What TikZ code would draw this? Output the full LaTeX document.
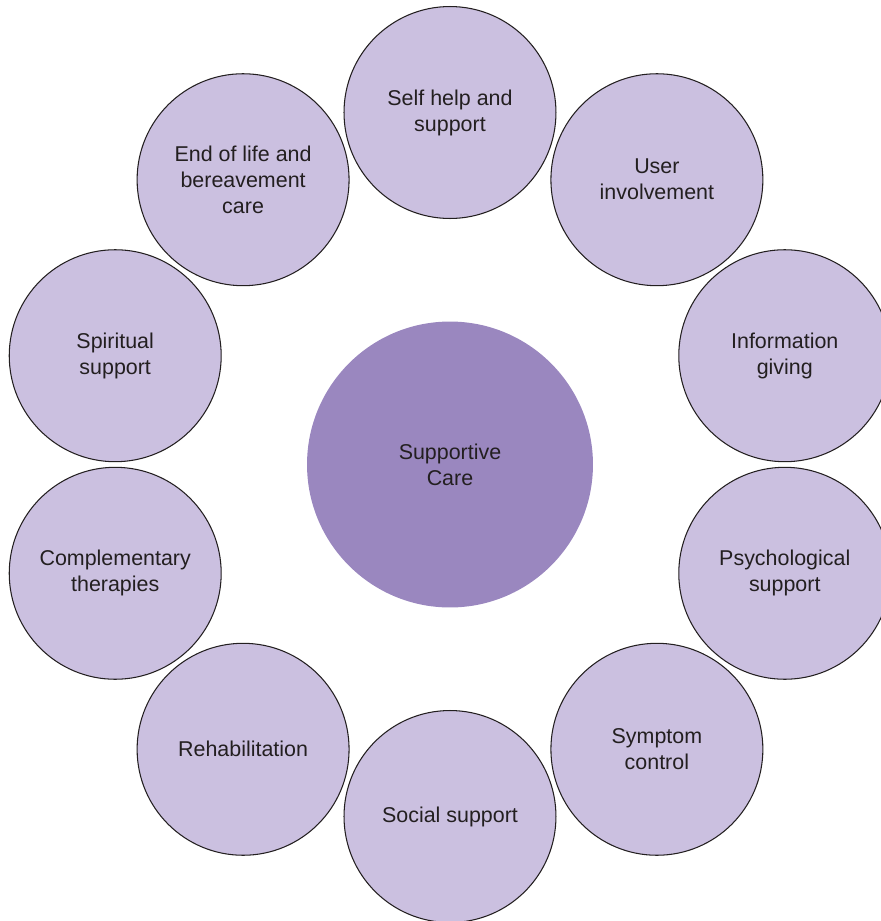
\documentclass[tikz,border=0pt]{standalone}
\usepackage{fontspec}
\setmainfont{Liberation Sans}
\definecolor{ringfill}{HTML}{CBC0E0}
\definecolor{corefill}{HTML}{9A87BF}
\definecolor{labeltext}{HTML}{231F20}

\begin{document}
\begin{tikzpicture}[x=0.02cm,y=0.02cm]
        \tikzstyle{every node}+=[inner sep=0pt, text=labeltext, align=center, font=\fontsize{12.2}{14.8}\selectfont]
        \tikzstyle{care}=[circle, draw=labeltext, line width=0.6pt, fill=ringfill, minimum size=4.24cm]
        \tikzstyle{core}=[circle, fill=corefill, minimum size=5.72cm]
        \useasboundingbox (-450,-456.5) rectangle (431,464.5);
        \clip (-450,-456.5) rectangle (431,464.5);
        \node [core] (core) at (0,0) {Supportive\\Care};
        \node [care] (selfhelp) at (90:352) {Self help and\\support};
        \node [care] (user) at (54:352) {User\\involvement};
        \node [care] (info) at (18:352) {Information\\giving};
        \node [care] (psych) at (-18:352) {Psychological\\support};
        \node [care] (symptom) at (-54:352) {Symptom\\control};
        \node [care] (social) at (-90:352) {Social support};
        \node [care] (rehab) at (-126:352) {Rehabilitation};
        \node [care] (compl) at (-162:352) {Complementary\\therapies};
        \node [care] (spirit) at (162:352) {Spiritual\\support};
        \node [care] (endlife) at (126:352) {End of life and\\bereavement\\care};
\end{tikzpicture}
\end{document}
